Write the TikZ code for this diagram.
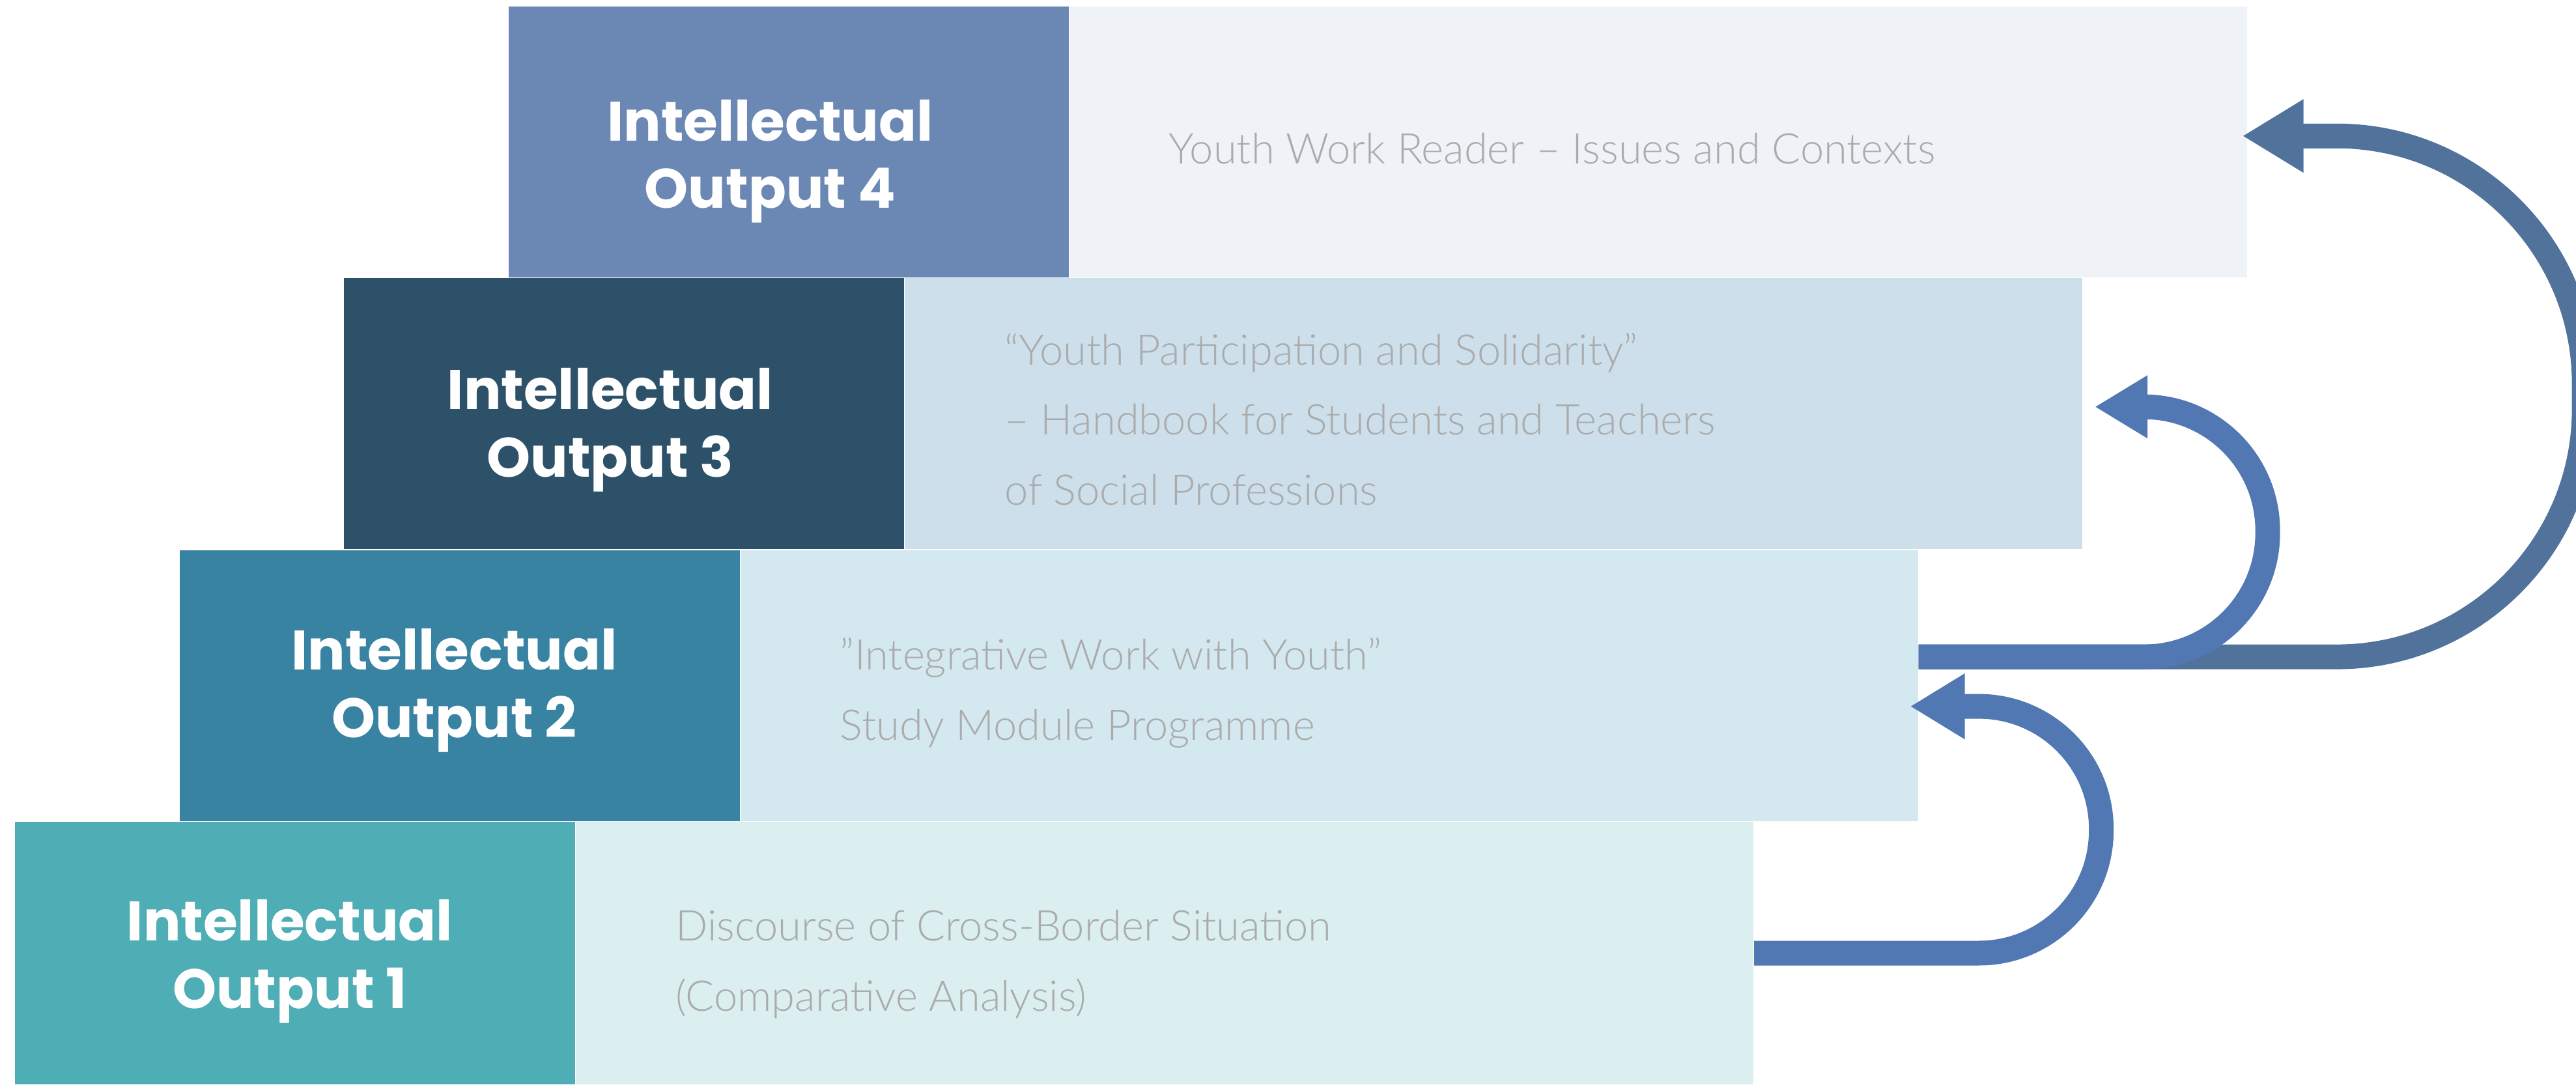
\documentclass[tikz,border=0pt]{standalone}
\usepackage{fontspec}
\usepackage{xcolor}
\usepackage{tikz}
\usetikzlibrary{arrows.meta, positioning}
\setmainfont{Lato}
\newfontfamily\headfont{Poppins}
\newfontfamily\descfont{Lato Light}
\definecolor{ioonedark}{HTML}{4EADB5}
\definecolor{ioonelight}{HTML}{DBEEF0}
\definecolor{iotwodark}{HTML}{3882A2}
\definecolor{iotwolight}{HTML}{D4E8EF}
\definecolor{iothreedark}{HTML}{2C5169}
\definecolor{iothreelight}{HTML}{CCDFEA}
\definecolor{iofourdark}{HTML}{6B88B5}
\definecolor{iofourlight}{HTML}{EFF3F8}
\definecolor{descgrey}{HTML}{ABABAB}
\definecolor{arrowblue}{HTML}{5178B3}
\definecolor{arrowsteel}{HTML}{51739B}
\tikzset{
    outbox/.style={rectangle, inner sep=0pt, minimum width=8.6cm, minimum height=4.16cm},
    headtext/.style={inner sep=0pt, text=white, align=center, font=\headfont\bfseries\fontsize{24.3}{29.5}\selectfont},
    detailbox/.style={rectangle, inner sep=0pt, minimum width=18.08cm, minimum height=4.16cm},
    desctext/.style={inner sep=0pt, align=left, text=descgrey, font=\descfont\fontsize{18.5}{30.7}\selectfont},
    backarrow/.style={line width=0.38cm, rounded corners=1.88cm}
}
\begin{document}
\begin{tikzpicture}
            \useasboundingbox (0,0) rectangle (39.55,16.65);
            \clip (0,0) rectangle (39.55,16.65);

            \node (io1) [outbox, fill=ioonedark, minimum height=4.03cm] at (4.53,2.015) {};
            \node (io2) [outbox, fill=iotwodark, above=0pt of io1, xshift=2.525cm] {};
            \node (io3) [outbox, fill=iothreedark, above=0pt of io2, xshift=2.525cm] {};
            \node (io4) [outbox, fill=iofourdark, above=0pt of io3, xshift=2.525cm] {};

            \node (h1) [headtext, xshift=-0.08cm, yshift=-0.13cm] at (io1) {Intellectual\\Output 1};
            \node (h2) [headtext, xshift=-0.08cm, yshift=-0.08cm] at (io2) {Intellectual\\Output 2};
            \node (h3) [headtext, xshift=-0.21cm, yshift=-0.25cm] at (io3) {Intellectual\\Output 3};
            \node (h4) [headtext, xshift=-0.28cm, yshift=-0.30cm] at (io4) {Intellectual\\Output 4};

            \node (lt1) [detailbox, fill=ioonelight, minimum height=4.03cm, right=0pt of io1] {};
            \node (lt2) [detailbox, fill=iotwolight, right=0pt of io2] {};
            \node (lt3) [detailbox, fill=iothreelight, right=0pt of io3] {};
            \node (lt4) [detailbox, fill=iofourlight, right=0pt of io4] {};

            \node (d1) [desctext, right=1.53cm of io1, yshift=-0.17cm] {Discourse of Cross-Border Situation\\(Comparative Analysis)};
            \node (d2) [desctext, right=1.53cm of io2, yshift=-0.11cm] {”Integrative Work with Youth”\\Study Module Programme};
            \node (d3) [desctext, right=1.53cm of io3, yshift=-0.085cm] {“Youth Participation and Solidarity”\\– Handbook for Students and Teachers\\of Social Professions};
            \node (d4) [desctext, right=1.53cm of io4, yshift=-0.10cm] {Youth Work Reader – Issues and Contexts};

            \draw[backarrow, draw=arrowsteel, rounded corners=3.8cm, -{Triangle[length=0.94cm, width=1.06cm]}] ([yshift=0.44cm]lt2.east) -- ++(10.22,0) |- ([xshift=-0.08cm, yshift=0.09cm]lt4.east);
            \draw[backarrow, draw=arrowblue, rounded corners=1.9cm, -{Triangle[length=0.81cm, width=0.91cm]}] ([yshift=0.44cm]lt2.east) -- ++(5.36,0) |- ([xshift=0.18cm, yshift=0.105cm]lt3.east);
            \draw[backarrow, draw=arrowblue, -{Triangle[length=0.84cm, width=0.95cm]}] (lt1.east) -- ++(5.33,0) |- ([xshift=-0.13cm, yshift=-0.32cm]lt2.east);
        \end{tikzpicture}
\end{document}
